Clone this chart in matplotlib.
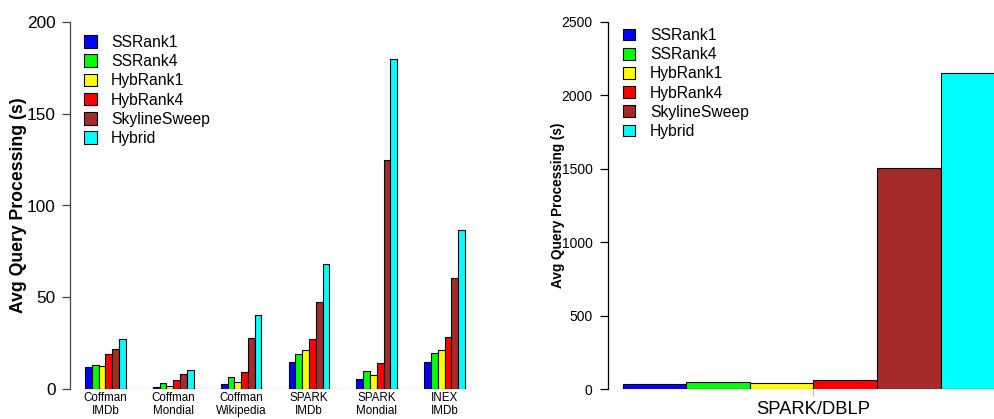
import matplotlib.pyplot as plt
import matplotlib.patches as mpatches
import numpy as np

plt.rcParams['font.family'] = ['Liberation Sans', 'DejaVu Sans']

methods = ['SSRank1', 'SSRank4', 'HybRank1', 'HybRank4', 'SkylineSweep', 'Hybrid']
colors = ['#0000ff', '#00ff00', '#ffff00', '#ff0000', '#a52a2a', '#00ffff']

# avg query processing time (s) per dataset
datasets = ['Coffman\nIMDb', 'Coffman\nMondial', 'Coffman\nWikipedia',
            'SPARK\nIMDb', 'SPARK\nMondial', 'INEX\nIMDb']
ssrank1 = [12.1, 1.1, 2.9, 14.9, 5.4, 14.9]
ssrank4 = [13.1, 3.3, 6.3, 19.0, 10.0, 19.8]
hybrank1 = [12.3, 1.5, 4.0, 21.2, 7.8, 21.4]
hybrank4 = [19.0, 5.1, 9.4, 27.2, 14.3, 28.3]
skyline = [21.9, 8.0, 27.9, 47.3, 124.9, 60.6]
hybrid = [27.2, 10.2, 40.1, 68.2, 179.7, 86.7]

dblp_label = 'SPARK/DBLP'
dblp_times = [36, 45, 41, 64, 1504, 2153]

W, H = 995, 419
fig = plt.figure(figsize=(W / 100, H / 100), dpi=100)


def legend_handles():
    return [mpatches.Patch(facecolor=c, edgecolor='black', linewidth=0.8, label=m)
            for m, c in zip(methods, colors)]


# ---- left: six datasets, grouped bars ----
ax1 = fig.add_axes([70 / W, 30 / H, 410 / W, 367 / H])
series = [ssrank1, ssrank4, hybrank1, hybrank4, skyline, hybrid]
stride = 10
groups = np.arange(len(datasets)) * stride
ax1.plot([groups[0], groups[-1] + len(methods)], [0, 0], color='#777777',
         linestyle=':', linewidth=1, zorder=1)
for i, (vals, c) in enumerate(zip(series, colors)):
    ax1.bar(groups + i + 0.5, vals, width=1, color=c, edgecolor='black',
            linewidth=0.8, zorder=2)

ax1.set_xlim(-2.21, 58.2)
ax1.set_ylim(0, 200)
ax1.set_yticks([0, 50, 100, 150, 200])
ax1.set_xticks(groups + len(methods) / 2)
ax1.set_xticklabels(datasets, fontsize=8.4, linespacing=1.1)
ax1.tick_params(axis='x', length=0, pad=2)
ax1.tick_params(axis='y', length=5.8, width=0.9, pad=4.5, labelsize=12.4,
                color='#444444')
for s in ['top', 'right', 'bottom']:
    ax1.spines[s].set_visible(False)
ax1.spines['left'].set_color('#444444')
ax1.spines['left'].set_linewidth(0.9)
ax1.set_ylabel('Avg Query Processing (s)', fontsize=12.7, fontweight='bold')
ax1.yaxis.set_label_coords(-0.104, 0.5)
ax1.legend(handles=legend_handles(), loc='upper left',
           bbox_to_anchor=(0.034, 0.965), frameon=False, fontsize=11.3,
           handlelength=0.83, handleheight=0.83, handletextpad=0.9,
           labelspacing=0.27, borderpad=0, borderaxespad=0)

# ---- right: SPARK/DBLP ----
ax2 = fig.add_axes([608 / W, 30 / H, 411 / W, 367 / H])
pos = np.arange(len(methods))
ax2.bar(pos, dblp_times, width=1, color=colors, edgecolor='black', linewidth=0.8)
ax2.set_xlim(-0.736, 5.736)
ax2.set_ylim(0, 2500)
ax2.set_yticks([0, 500, 1000, 1500, 2000, 2500])
ax2.set_xticks([2.5])
ax2.set_xticklabels([dblp_label], fontsize=13.2)
ax2.tick_params(axis='x', length=5, width=0.8, color='#bbbbbb', pad=3.5)
ax2.tick_params(axis='y', length=6, width=0.9, pad=5, labelsize=10)
for s in ['top', 'right', 'bottom']:
    ax2.spines[s].set_visible(False)
ax2.spines['left'].set_linewidth(0.9)
ax2.set_ylabel('Avg Query Processing (s)', fontsize=9.8, fontweight='bold')
ax2.yaxis.set_label_coords(-0.105, 0.5)
ax2.legend(handles=legend_handles(), loc='upper left',
           bbox_to_anchor=(0.0365, 0.984), frameon=False, fontsize=11.3,
           handlelength=0.78, handleheight=0.78, handletextpad=0.95,
           labelspacing=0.27, borderpad=0, borderaxespad=0)

fig.savefig('out.png', dpi=100)
